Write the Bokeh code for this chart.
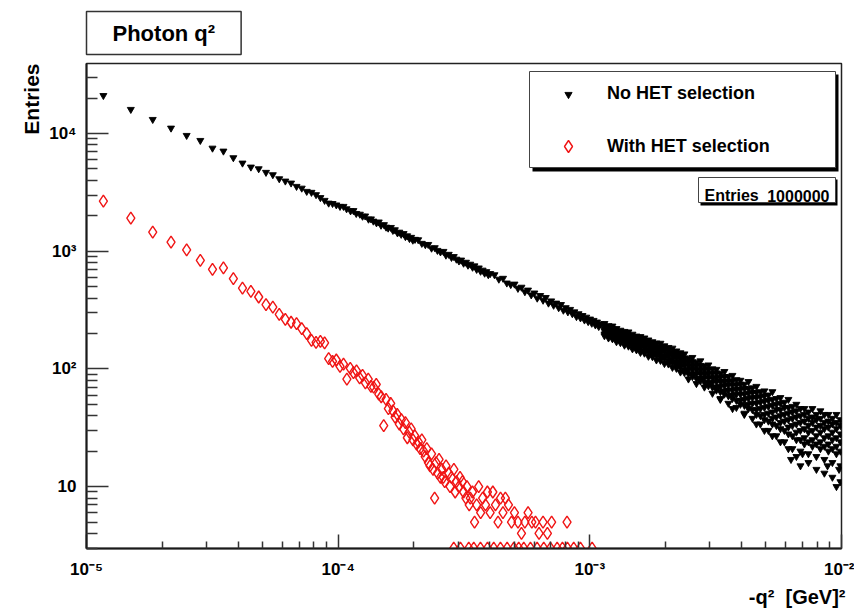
import math
from bokeh.plotting import figure
from bokeh.models import (ColumnDataSource, Range1d, FixedTicker, Legend, LegendItem,
                          BoxAnnotation, Label, Title)
from bokeh.embed import file_html
from bokeh.resources import INLINE

FONT = "Liberation Sans"

# ---------------- axes ----------------
x_min, x_max = 1e-5, 1e-2
y_min, y_max = 2.98, 39300
x_ticks = [1e-5, 1e-4, 1e-3, 1e-2]
x_tick_labels = ["10⁻⁵", "10⁻⁴", "10⁻³", "10⁻²"]
y_ticks = [10, 100, 1000, 10000]
y_tick_labels = ["10", "10²", "10³", "10⁴"]

# ---------------- "No HET selection" (black) ----------------
black_q2 = [
    1.167e-5, 1.500e-5, 1.833e-5, 2.167e-5, 2.500e-5, 2.833e-5, 3.167e-5, 3.500e-5, 3.833e-5, 4.167e-5,
    4.500e-5, 4.833e-5, 5.167e-5, 5.500e-5, 5.833e-5, 6.167e-5, 6.500e-5, 6.833e-5, 7.167e-5, 7.500e-5,
    7.833e-5, 8.167e-5, 8.500e-5, 8.833e-5, 9.167e-5, 9.500e-5, 9.833e-5, 1.017e-4,
    1.05e-4, 1.08e-4, 1.12e-4, 1.15e-4, 1.18e-4, 1.22e-4, 1.25e-4, 1.28e-4, 1.32e-4, 1.35e-4,
    1.38e-4, 1.42e-4, 1.45e-4, 1.48e-4, 1.52e-4, 1.55e-4, 1.58e-4, 1.62e-4, 1.65e-4, 1.68e-4,
    1.72e-4, 1.75e-4, 1.78e-4, 1.82e-4, 1.85e-4, 1.88e-4, 1.92e-4, 1.95e-4, 1.98e-4, 2.02e-4,
    2.08e-4, 2.15e-4, 2.22e-4, 2.28e-4, 2.35e-4, 2.42e-4, 2.48e-4, 2.55e-4, 2.62e-4, 2.68e-4,
    2.75e-4, 2.82e-4, 2.88e-4, 2.95e-4, 3.02e-4, 3.08e-4, 3.15e-4, 3.22e-4, 3.28e-4, 3.35e-4,
    3.42e-4, 3.48e-4, 3.55e-4, 3.62e-4, 3.68e-4, 3.75e-4, 3.82e-4, 3.88e-4, 3.95e-4, 4.02e-4,
    4.18e-4, 4.35e-4, 4.52e-4, 4.68e-4, 4.85e-4, 5.02e-4, 5.18e-4, 5.35e-4, 5.52e-4, 5.68e-4,
    5.85e-4, 6.02e-4, 6.18e-4, 6.35e-4, 6.52e-4, 6.68e-4, 6.85e-4, 7.02e-4, 7.18e-4, 7.35e-4,
    7.52e-4, 7.68e-4, 7.85e-4, 8.02e-4, 8.18e-4, 8.35e-4, 8.52e-4, 8.68e-4, 8.85e-4, 9.02e-4,
    9.18e-4, 9.35e-4, 9.52e-4, 9.68e-4, 9.85e-4, 1.002e-3, 1.018e-3, 1.035e-3, 1.052e-3, 1.068e-3,
    1.085e-3, 1.102e-3,
]
black_n = [
    21000, 16000, 13150, 11100, 9620, 8720, 7500, 7080, 6220, 5600,
    5180, 5010, 4670, 4460, 4120, 3940, 3790, 3550, 3430, 3220,
    3160, 3020, 2850, 2700, 2560, 2540, 2470, 2400,
    2400, 2290, 2200, 2210, 2090, 2060, 1980, 1990, 1870, 1880,
    1800, 1740, 1770, 1660, 1680, 1600, 1570, 1590, 1500, 1520,
    1430, 1450, 1390, 1410, 1330, 1350, 1280, 1310, 1240, 1260,
    1250, 1165, 1135, 1140, 1060, 1070, 1015, 985, 995, 925,
    940, 885, 900, 855, 825, 840, 790, 805, 760, 775,
    730, 750, 700, 720, 675, 690, 650, 670, 630, 645,
    630, 578, 588, 536, 520, 525, 483, 494, 452, 467,
    425, 441, 399, 420, 383, 404, 362, 378, 347, 362,
    331, 352, 315, 331, 305, 320, 294, 305, 278, 294,
    271, 284, 260, 275, 252, 265, 244, 258, 236, 250,
    229, 241,
]

# dense part of the black band: sampled columns, six readings across the band each
band_q2 = [
    1.143e-3, 1.186e-3, 1.230e-3, 1.276e-3, 1.323e-3, 1.373e-3, 1.424e-3, 1.477e-3, 1.532e-3, 1.589e-3,
    1.648e-3, 1.709e-3, 1.773e-3, 1.839e-3, 1.908e-3, 1.979e-3, 2.053e-3, 2.129e-3, 2.208e-3, 2.291e-3,
    2.376e-3, 2.465e-3, 2.556e-3, 2.652e-3, 2.750e-3, 2.853e-3, 2.959e-3, 3.070e-3, 3.184e-3, 3.303e-3,
    3.426e-3, 3.553e-3, 3.686e-3, 3.823e-3, 3.966e-3, 4.113e-3, 4.267e-3, 4.426e-3, 4.591e-3, 4.762e-3,
    4.939e-3, 5.123e-3, 5.314e-3, 5.512e-3, 5.718e-3, 5.931e-3, 6.152e-3, 6.381e-3, 6.619e-3, 6.866e-3,
    7.122e-3, 7.387e-3, 7.663e-3, 7.948e-3, 8.245e-3, 8.552e-3, 8.871e-3, 9.201e-3, 9.545e-3, 9.901e-3,
]
band_n1 = [243, 233, 231, 220, 213, 208, 206, 197, 190, 188,
           183, 176, 170, 166, 165, 157, 152, 150, 142, 137,
           134, 123, 125, 114, 117, 106, 108, 100, 99, 92,
           95, 86, 88, 81, 80, 74, 78, 69, 71, 64,
           65, 60, 64, 56, 57, 52, 55, 48, 50, 46,
           46, 43, 46, 41, 44, 41, 41, 38, 41, 37]
band_n2 = [231, 222, 219, 208, 205, 197, 193, 186, 182, 175,
           171, 165, 162, 156, 153, 147, 144, 138, 133, 128,
           124, 115, 115, 107, 107, 99, 99, 92, 92, 85,
           86, 79, 79, 73, 74, 68, 68, 63, 63, 58,
           59, 54, 55, 50, 51, 47, 47, 43, 44, 40,
           41, 38, 39, 37, 38, 35, 36, 34, 35, 33]
band_n3 = [219, 215, 206, 202, 194, 190, 182, 178, 171, 168,
           161, 158, 152, 149, 143, 140, 134, 130, 125, 120,
           115, 107, 106, 99, 98, 91, 91, 84, 84, 78,
           78, 73, 73, 67, 67, 61, 62, 57, 57, 52,
           53, 48, 49, 45, 45, 41, 42, 38, 39, 35,
           36, 33, 35, 32, 33, 31, 32, 29, 31, 28]
band_n4 = [211, 203, 198, 189, 186, 178, 174, 167, 163, 157,
           153, 147, 144, 138, 136, 129, 127, 120, 115, 111,
           107, 99, 99, 91, 91, 84, 84, 77, 78, 71,
           72, 66, 66, 61, 61, 55, 56, 51, 51, 46,
           47, 42, 43, 39, 40, 36, 37, 33, 34, 30,
           31, 29, 30, 27, 29, 26, 27, 25, 26, 24]
band_n5 = [198, 193, 186, 181, 175, 170, 163, 159, 152, 149,
           142, 139, 134, 130, 125, 122, 117, 113, 108, 103,
           98, 91, 90, 83, 83, 77, 76, 70, 70, 64,
           65, 59, 60, 54, 54, 49, 50, 45, 45, 40,
           41, 36, 38, 33, 35, 30, 32, 27, 29, 25,
           26, 24, 25, 23, 24, 22, 23, 21, 22, 20]
band_n6 = [191, 183, 180, 170, 167, 159, 156, 148, 145, 138,
           136, 128, 127, 119, 118, 111, 110, 103, 101, 94,
           93, 82, 86, 75, 79, 70, 72, 62, 66, 56,
           61, 51, 56, 47, 50, 42, 46, 38, 41, 34,
           37, 30, 34, 27, 31, 24, 28, 21, 25, 20,
           23, 19, 22, 18, 21, 17, 20, 16, 19, 15]
black_low_q2 = [3.30e-3, 3.69e-3, 4.11e-3, 4.59e-3, 4.94e-3, 5.31e-3, 5.72e-3, 6.15e-3, 6.30e-3, 6.62e-3,
                6.87e-3, 7.00e-3, 7.39e-3, 7.95e-3, 8.55e-3, 8.80e-3, 9.20e-3, 9.55e-3, 9.78e-3, 9.90e-3]
black_low_n = [55, 46, 41, 34, 30, 27, 24, 21, 17, 18,
               15, 19, 16, 14, 13, 15, 12, 10, 14, 11]

# ---------------- "With HET selection" (red) ----------------
red_q2 = [
    1.167e-5, 1.500e-5, 1.833e-5, 2.167e-5, 2.500e-5, 2.833e-5, 3.167e-5, 3.500e-5, 3.833e-5, 4.167e-5,
    4.500e-5, 4.833e-5, 5.167e-5, 5.500e-5, 5.833e-5, 6.167e-5, 6.500e-5, 6.833e-5, 7.167e-5, 7.500e-5,
    7.833e-5, 8.167e-5, 8.500e-5, 8.833e-5,
    9.167e-5, 9.500e-5, 9.833e-5, 1.017e-4, 1.050e-4, 1.083e-4, 1.117e-4, 1.150e-4, 1.183e-4, 1.217e-4,
    1.250e-4, 1.283e-4, 1.317e-4, 1.350e-4, 1.383e-4, 1.417e-4, 1.450e-4, 1.483e-4, 1.517e-4, 1.550e-4,
    1.583e-4, 1.617e-4, 1.650e-4, 1.683e-4, 1.717e-4, 1.750e-4, 1.783e-4, 1.817e-4, 1.850e-4, 1.883e-4,
    1.917e-4, 1.950e-4, 1.983e-4, 2.017e-4, 2.050e-4, 2.083e-4, 2.117e-4, 2.150e-4, 2.183e-4, 2.217e-4,
    2.250e-4, 2.283e-4, 2.317e-4, 2.350e-4, 2.383e-4, 2.417e-4, 2.450e-4, 2.483e-4, 2.517e-4, 2.550e-4,
    2.583e-4, 2.617e-4, 2.650e-4, 2.683e-4, 2.750e-4, 2.783e-4, 2.817e-4, 2.883e-4, 2.917e-4, 2.950e-4,
    3.017e-4, 3.050e-4, 3.117e-4, 3.150e-4, 3.217e-4, 3.250e-4, 3.317e-4, 3.350e-4, 3.417e-4, 3.483e-4,
    3.550e-4, 3.617e-4, 3.683e-4, 3.750e-4, 3.850e-4, 3.917e-4, 4.017e-4, 4.117e-4, 4.217e-4, 4.317e-4,
    4.417e-4, 4.517e-4, 4.617e-4, 4.750e-4, 4.883e-4, 5.017e-4, 5.183e-4, 5.350e-4, 5.517e-4, 5.683e-4,
    5.883e-4, 6.083e-4, 6.283e-4, 6.517e-4, 6.783e-4, 7.050e-4, 8.117e-4,
]
red_n = [
    2660, 1905, 1449, 1192, 1027, 834, 700, 720, 584, 486,
    455, 408, 351, 335, 291, 264, 249, 242, 220, 199,
    175, 168, 171, 166,
    122, 116, 119, 105, 110, 82, 101, 93, 96, 84,
    88, 76, 82, 71, 70, 74, 61, 58, 33, 55,
    46, 51, 44, 39, 41, 34, 37, 31, 35, 26,
    29, 31, 25, 27, 23, 24, 21, 25, 20, 18,
    21, 16, 15, 19, 14, 8, 16, 13, 17, 12,
    14, 12, 11, 15, 13, 10, 12, 14, 9, 11,
    10, 12, 11, 9, 8, 10, 7, 8, 9, 5,
    7, 10, 6, 8, 7, 9, 6, 9, 7, 5,
    8, 6, 8, 7, 5, 6, 5, 4, 5, 6,
    5, 5, 4, 5, 4, 5, 5,
]
# bins sitting on the lower edge of the plot
red_floor_q2 = [2.879e-4, 3.061e-4, 3.303e-4, 3.458e-4, 3.676e-4, 3.920e-4, 4.152e-4, 4.414e-4, 4.693e-4, 4.986e-4,
                5.218e-4, 5.464e-4, 5.808e-4, 6.174e-4, 6.560e-4, 6.974e-4, 7.415e-4, 7.783e-4, 8.147e-4, 8.630e-4,
                9.177e-4, 1.021e-3]
red_floor_n = [3, 3, 3, 3, 3, 3, 3, 3, 3, 3,
               3, 3, 3, 3, 3, 3, 3, 3, 3, 3,
               3, 3]

assert len(black_q2) == len(black_n)
assert len(red_q2) == len(red_n)
for t in (band_n1, band_n2, band_n3, band_n4, band_n5, band_n6):
    assert len(t) == len(band_q2)
assert len(black_low_q2) == len(black_low_n)
assert len(red_floor_q2) == len(red_floor_n)

black_src = ColumnDataSource(dict(
    q2=black_q2 + band_q2 * 6 + black_low_q2,
    n=black_n + band_n1 + band_n2 + band_n3 + band_n4 + band_n5 + band_n6 + black_low_n,
))
red_src = ColumnDataSource(dict(q2=red_q2 + red_floor_q2, n=red_n + red_floor_n))

# ---------------- figure ----------------
p = figure(width=854, height=609, x_axis_type="log", y_axis_type="log",
           x_range=Range1d(x_min, x_max), y_range=Range1d(y_min, y_max),
           output_backend="svg", toolbar_location=None,
           min_border_left=86, min_border_right=13, min_border_top=63, min_border_bottom=61)
p.grid.visible = False
p.background_fill_color = "white"
p.border_fill_color = "white"
p.outline_line_color = "#222222"
p.outline_line_width = 1.5

xa = p.xaxis[0]
ya = p.yaxis[0]
xa.ticker = FixedTicker(ticks=x_ticks,
                        minor_ticks=[m * d for d in x_ticks[:-1] for m in range(2, 10)])
ya.ticker = FixedTicker(ticks=y_ticks,
                        minor_ticks=[m * d for d in [1] + y_ticks for m in range(2, 10)
                                     if y_min < m * d < y_max])
xa.major_label_overrides = {float(t): s for t, s in zip(x_ticks, x_tick_labels)}
ya.major_label_overrides = {float(t): s for t, s in zip(y_ticks, y_tick_labels)}
xa.major_tick_in, xa.major_tick_out, xa.minor_tick_in, xa.minor_tick_out = 14, 0, 7, 0
ya.major_tick_in, ya.major_tick_out, ya.minor_tick_in, ya.minor_tick_out = 22, 0, 11, 0
xa.major_label_standoff = 11
ya.major_label_standoff = 10
for ax in (xa, ya):
    ax.axis_line_width = 2
    ax.axis_line_color = "#1a1a1a"
    ax.major_tick_line_color = "#333333"
    ax.minor_tick_line_color = "#333333"
    ax.major_tick_line_width = 1.5
    ax.minor_tick_line_width = 1.5
    ax.major_label_text_font = FONT
    ax.major_label_text_font_style = "bold"
    ax.major_label_text_font_size = "17px"
    ax.major_label_text_color = "black"

rb = p.scatter("q2", "n", source=black_src, marker="inverted_triangle", size=7,
               fill_color="black", line_color="black", line_width=0.9)
rr = p.scatter("q2", "n", source=red_src, marker="diamond", size=12,
               fill_color=None, line_color="#f01414", line_width=1.4)


def cbox(l, t, r, b, fill, line_color=None, line_width=1.0):
    return BoxAnnotation(left=l, right=r, top=t, bottom=b,
                         left_units="canvas", right_units="canvas",
                         top_units="canvas", bottom_units="canvas",
                         fill_color=fill, fill_alpha=1.0,
                         line_color=line_color, line_width=line_width,
                         line_alpha=1.0 if line_color else 0.0)


def clabel(x, y, text, size, align="left", baseline="alphabetic"):
    return Label(x=x, y=y, x_units="canvas", y_units="canvas", text=text,
                 text_align=align, text_baseline=baseline, text_font=FONT,
                 text_font_style="bold", text_font_size=size, text_color="black")


# legend box with shadow
p.add_layout(cbox(532, 74, 838, 171, "black"))
p.add_layout(cbox(529, 71, 835, 167, "white", "#444444", 1.0))
# stats box with shadow
p.add_layout(cbox(700, 179, 837, 205, "black"))
p.add_layout(cbox(698, 177, 835, 202, "white", "#444444", 1.0))
p.add_layout(clabel(704, 195, "Entries", "16px"))
p.add_layout(clabel(829, 195, "1000000", "16px", align="right"))

common = dict(orientation="vertical", padding=0, margin=0, spacing=0,
              border_line_alpha=0.0, background_fill_alpha=0.0,
              label_text_font=FONT, label_text_font_style="bold",
              label_text_font_size="18px", label_text_color="black")
leg_b = Legend(items=[LegendItem(label="No HET selection", renderers=[rb])],
               location=(472, 444), glyph_width=20, glyph_height=18, label_height=18,
               label_standoff=29, **common)
leg_r = Legend(items=[LegendItem(label="With HET selection", renderers=[rr])],
               location=(467, 387), glyph_width=30, glyph_height=30, label_height=30,
               label_standoff=24, **common)
p.add_layout(leg_b, "center")
p.add_layout(leg_r, "center")

# titles outside the frame
title_box = Title(text="Photon q²", align="left", offset=0, standoff=18,
                  text_font=FONT, text_font_style="bold", text_font_size="22px",
                  text_color="black", background_fill_color="white",
                  border_line_color="#333333", border_line_width=1.5,
                  padding=dict(left=26, right=26, top=9, bottom=9))
p.add_layout(title_box, "above")
y_title = Title(text="Entries", align="right", standoff=8,
                text_font=FONT, text_font_style="bold", text_font_size="21px",
                text_color="black")
p.add_layout(y_title, "left")
x_title = Title(text="-q²\u00a0 [GeV]²", align="right", offset=-4, standoff=4,
                text_font=FONT, text_font_style="bold", text_font_size="20px",
                text_color="black")
p.add_layout(x_title, "below")

open("out.html", "w").write(file_html(p, INLINE))
